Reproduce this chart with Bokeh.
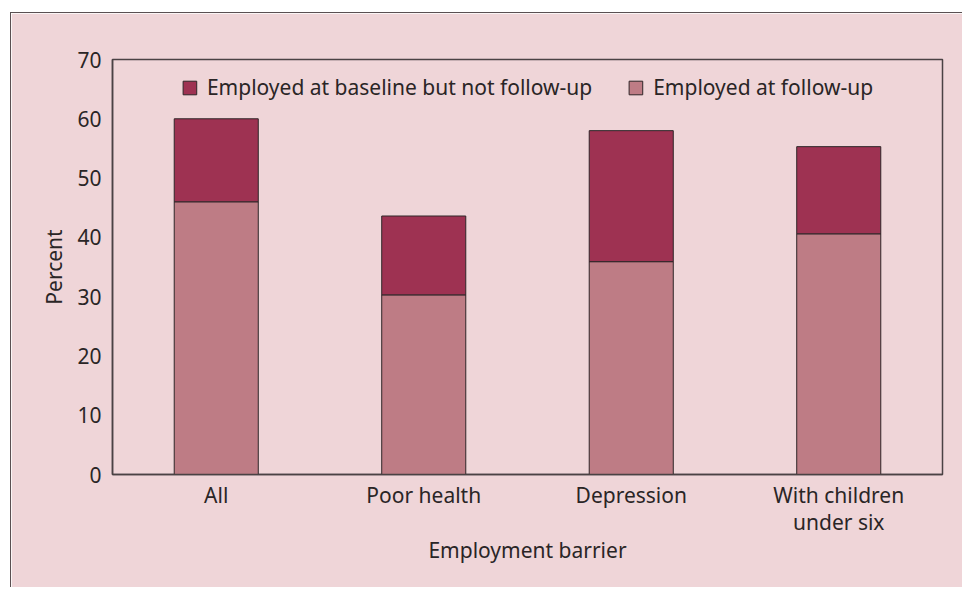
from bokeh.plotting import figure
from bokeh.models import ColumnDataSource, Legend, LegendItem, FactorRange, SingleIntervalTicker
from bokeh.embed import file_html
from bokeh.resources import INLINE

categories = ["All", "Poor health", "Depression", "With children\nunder six"]
employed_followup = [46.0, 30.3, 35.9, 40.6]
employed_baseline_only = [14.0, 13.3, 22.1, 14.7]
series_names = ["Employed at baseline but not follow-up", "Employed at follow-up"]

BG = "#efd5d8"
DARK = "#9e3252"
LIGHT = "#be7c85"
EDGE = "#2e2628"
TEXT = "#2a2526"
FONT = "Noto Sans"
FS = "21px"

src = ColumnDataSource(dict(cat=categories, follow=employed_followup, base=employed_baseline_only))

p = figure(x_range=FactorRange(*categories, range_padding=0), y_range=(0, 70),
           width=952, height=575, output_backend="svg", toolbar_location=None,
           min_border_left=101, min_border_top=46, min_border_right=21, min_border_bottom=114,
           styles={"margin-left": "10px", "margin-top": "12px",
                   "border-left": "1px solid #5a5052", "border-top": "1px solid #5a5052"})
p.background_fill_color = BG
p.border_fill_color = BG
p.outline_line_color = "#4a4244"
p.outline_line_width = 1.5
p.grid.visible = False

r = p.vbar_stack(["follow", "base"], x="cat", width=0.405, source=src,
                 fill_color=[LIGHT, DARK], line_color=EDGE, line_width=1)

legend = Legend(items=[LegendItem(label=series_names[0], renderers=[r[1]]),
                       LegendItem(label=series_names[1], renderers=[r[0]])],
                location="top_center", orientation="horizontal")
legend.background_fill_alpha = 0
legend.border_line_alpha = 0
legend.glyph_width = 17
legend.glyph_height = 17
legend.label_standoff = 9
legend.spacing = 35
legend.padding = 0
legend.margin = 14
legend.label_text_font = FONT
legend.label_text_font_size = FS
legend.label_text_color = TEXT
p.add_layout(legend)

p.yaxis.ticker = SingleIntervalTicker(interval=10)
p.yaxis.major_tick_in = 7
p.yaxis.major_tick_out = 0
p.yaxis.minor_tick_line_color = None
p.yaxis.major_label_standoff = 7
p.yaxis.axis_label = "Percent"
p.yaxis.axis_label_standoff = 6

p.xaxis.major_label_standoff = 0
p.xaxis.major_label_text_line_height = 0.97
p.xaxis.axis_label = "Employment barrier"
p.xaxis.axis_label_standoff = -3

for ax in (p.xaxis, p.yaxis):
    ax.axis_line_color = "#4a4244"
    ax.axis_line_width = 1.5
    ax.major_tick_line_color = "#4a4244" if ax is p.yaxis else None
    ax.major_tick_line_width = 1.5
    ax.major_label_text_font = FONT
    ax.major_label_text_font_size = FS
    ax.major_label_text_color = TEXT
    ax.axis_label_text_font = FONT
    ax.axis_label_text_font_size = FS
    ax.axis_label_text_font_style = "normal"
    ax.axis_label_text_color = TEXT

open("out.html", "w").write(file_html(p, INLINE))
